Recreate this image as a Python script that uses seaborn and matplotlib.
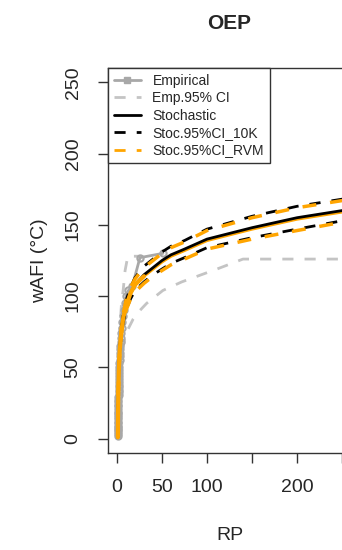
import numpy as np
import pandas as pd
import seaborn as sns
import matplotlib
matplotlib.use("Agg")
import matplotlib.pyplot as plt
from matplotlib.lines import Line2D

# empirical return periods and sorted wAFI values
emp_rp = [51.0, 25.5, 17.0, 12.75, 10.2, 8.5, 7.29, 6.38, 5.67, 5.1, 4.64, 4.25, 3.92,
          3.64, 3.4, 3.19, 3.0, 2.83, 2.68, 2.55, 2.43, 2.32, 2.22, 2.13, 2.04, 1.96,
          1.89, 1.82, 1.76, 1.7, 1.65, 1.59, 1.55, 1.5, 1.46, 1.42, 1.38, 1.34, 1.31,
          1.28, 1.24, 1.21, 1.19, 1.16, 1.13, 1.11, 1.09, 1.06, 1.04, 1.02]
emp_val = [130, 127, 107, 104, 100, 95, 90, 86, 82, 78, 74, 71, 68, 65, 63, 60, 58, 55,
           53, 50, 48, 46, 44, 42, 40, 38, 36, 34, 33, 31, 29, 27, 26, 24, 23, 21, 19,
           18, 17, 15, 14, 12, 11, 9, 8, 7, 6, 5, 3, 2]

emp_ci_up_rp = [1.02, 1.5, 2.0, 3.0, 5.0, 7.0, 9.0, 12.0, 25.5]
emp_ci_up = [8, 35, 55, 75, 95, 105, 118, 128, 128]
emp_ci_lo_rp = [1.02, 2.0, 5.0, 10.0, 18.0, 24.0, 33.0, 51.0, 72.0, 111.0, 140.0, 260.0]
emp_ci_lo = [0, 35, 60, 74, 84, 89, 95, 104, 110, 119, 126, 126]

# stochastic curve and confidence bands
sto_rp = [1.0, 1.1, 1.3, 1.5, 2.0, 3.0, 5.0, 7.0, 10.0, 15.0, 20.0, 30.0, 40.0, 50.0,
          60.0, 75.0, 100.0, 150.0, 200.0, 260.0]
sto_val = [1, 12, 24, 33, 47, 62, 76, 85, 93, 102, 108, 115, 120, 125, 129, 133, 140,
           148, 155, 161]
rvm_val = [1, 12, 24, 33, 47, 62, 76, 85, 93, 102, 108, 114, 119, 124, 128, 132, 139,
           147, 154, 160]
k10_up = [1, 12, 25, 34, 48, 64, 78, 88, 97, 106, 113, 121, 126, 131, 135, 139, 147,
          156, 163, 169]
k10_lo = [1, 12, 23, 32, 46, 60, 74, 82, 90, 98, 104, 110, 115, 119, 123, 127, 134,
          141, 147, 154]
rvm_up = [1, 12, 25, 34, 48, 64, 78, 88, 97, 106, 112, 120, 125, 130, 134, 138, 146,
          155, 162, 168]
rvm_lo = [1, 12, 23, 32, 46, 60, 74, 82, 90, 98, 103, 109, 114, 118, 122, 126, 133,
          140, 146, 153]

x_ticks = [0, 50, 100, 150, 200, 250]
x_labels = ["0", "50", "100", "", "200", ""]
y_ticks = [0, 50, 100, 150, 200, 250]

EMP_GREY = "#a8a8a8"
CI_GREY = "#c4c4c4"
ORANGE = "#ffa500"

sns.set_style("ticks")
plt.rcParams["font.family"] = ["Liberation Sans", "DejaVu Sans"]

fig = plt.figure(figsize=(3.42, 5.5), dpi=100)
ax = fig.add_axes([108 / 342, 97 / 550, 243 / 342, 385 / 550])

dash = (4, 4)
sns.lineplot(x=emp_ci_up_rp, y=emp_ci_up, ax=ax, color=CI_GREY, lw=2, sort=False,
             estimator=None, linestyle=(0, dash))
sns.lineplot(x=emp_ci_lo_rp, y=emp_ci_lo, ax=ax, color=CI_GREY, lw=2, sort=False,
             estimator=None, linestyle=(0, dash))
sns.lineplot(x=emp_rp, y=emp_val, ax=ax, color=EMP_GREY, lw=2, sort=False,
             estimator=None, marker="o", markersize=4.5, markerfacecolor="none",
             markeredgecolor=EMP_GREY, markeredgewidth=1.5)

sns.lineplot(x=sto_rp, y=sto_val, ax=ax, color="black", lw=2, sort=False, estimator=None)
sns.lineplot(x=sto_rp, y=rvm_val, ax=ax, color=ORANGE, lw=2.2, sort=False,
             estimator=None, zorder=1.5)
for ys in (k10_up, k10_lo):
    sns.lineplot(x=sto_rp, y=ys, ax=ax, color="black", lw=2, sort=False,
                 estimator=None, linestyle=(0, dash))
for ys in (rvm_up, rvm_lo):
    sns.lineplot(x=sto_rp, y=ys, ax=ax, color=ORANGE, lw=2.5, sort=False,
                 estimator=None, linestyle=(4, dash))
# thick orange at low RP where bands merge
sns.lineplot(x=sto_rp[:12], y=rvm_val[:12], ax=ax, color=ORANGE, lw=3, sort=False,
             estimator=None)

ax.set_xlim(-10, 260)
ax.set_ylim(-10, 260)
ax.set_xticks(x_ticks)
ax.set_xticklabels(x_labels)
ax.set_yticks(y_ticks)
ax.set_yticklabels([str(v) for v in y_ticks], rotation=90, va="center")
ax.tick_params(axis="both", length=7, width=1, color="#333333", labelsize=14, pad=12)
for s in ax.spines.values():
    s.set_color("#333333")
    s.set_linewidth(1)

ax.set_xlabel("RP", fontsize=14, labelpad=22)
ax.set_ylabel("wAFI (°C)", fontsize=14, labelpad=12)
ax.set_title("OEP", fontsize=15, fontweight="bold", pad=28)

handles = [
    Line2D([], [], color=EMP_GREY, lw=2, marker="s", markersize=4),
    Line2D([], [], color=CI_GREY, lw=2, linestyle=(0, dash)),
    Line2D([], [], color="black", lw=2),
    Line2D([], [], color="black", lw=2, linestyle=(0, dash)),
    Line2D([], [], color=ORANGE, lw=2, linestyle=(0, dash)),
]
labels = ["Empirical", "Emp.95% CI", "Stochastic", "Stoc.95%CI_10K", "Stoc.95%CI_RVM"]
leg = ax.legend(handles, labels, loc="upper left", bbox_to_anchor=(0, 1),
                borderaxespad=0, fontsize=10, frameon=True, fancybox=False,
                edgecolor="#333333", framealpha=1, handlelength=2.0,
                handletextpad=0.8, labelspacing=0.25, borderpad=0.4)
leg.get_frame().set_linewidth(1)

fig.savefig("out.png", dpi=100)
